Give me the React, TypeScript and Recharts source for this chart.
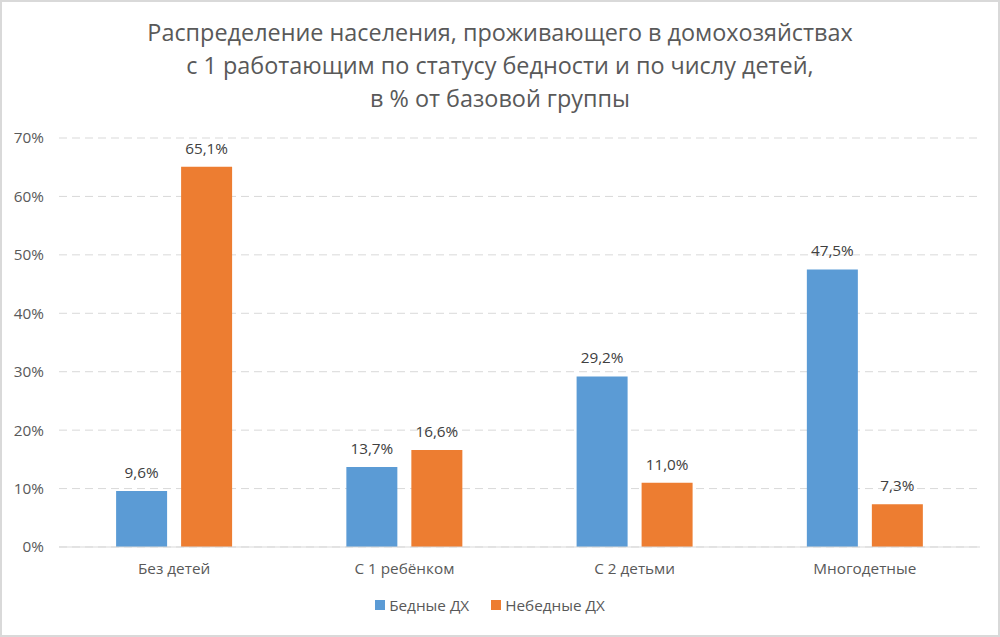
import React from "react";
import {
  BarChart,
  Bar,
  XAxis,
  YAxis,
  CartesianGrid,
  Legend,
  LabelList,
} from "recharts";

const categories = ["Без детей", "С 1 ребёнком", "С 2 детьми", "Многодетные"];
const poor = [9.6, 13.7, 29.2, 47.5];
const nonPoor = [65.1, 16.6, 11.0, 7.3];
const yTicks = [0, 10, 20, 30, 40, 50, 60, 70];

const titleLines = [
  "Распределение населения, проживающего в домохозяйствах",
  "с 1 работающим по статусу бедности и по числу детей,",
  "в % от базовой группы",
];

const COLORS = {
  poor: "#5B9BD5",
  nonPoor: "#ED7D31",
  text: "#595959",
  label: "#404040",
  grid: "#D9D9D9",
};

const FONT = "'Open Sans', 'Noto Sans', sans-serif";
const SMALL = 15.3;

const data = categories.map((name, i) => ({
  name,
  poor: poor[i],
  nonPoor: nonPoor[i],
}));

const formatPct = (v: number) => `${v.toFixed(1).replace(".", ",")}%`;

const renderLegend = (props: any) => {
  const { payload } = props;
  return (
    <div
      style={{
        display: "flex",
        justifyContent: "center",
        gap: 22,
        fontFamily: FONT,
        fontSize: SMALL,
        color: COLORS.text,
      }}
    >
      {payload.map((entry: any) => (
        <div key={entry.value} style={{ display: "flex", alignItems: "center" }}>
          <span
            style={{
              display: "inline-block",
              width: 10,
              height: 10,
              background: entry.color,
              marginRight: 4,
            }}
          />
          <span>{entry.value}</span>
        </div>
      ))}
    </div>
  );
};

export default function App() {
  return (
    <div
      style={{
        position: "fixed",
        left: 0,
        top: 0,
        width: 1000,
        height: 637,
        background: "#ffffff",
        fontFamily: FONT,
      }}
    >
      <div
        style={{
          position: "absolute",
          top: 16,
          left: 0,
          width: 1000,
          textAlign: "center",
          fontSize: 23.4,
          lineHeight: "33px",
          color: COLORS.text,
        }}
      >
        {titleLines.map((line) => (
          <div key={line}>{line}</div>
        ))}
      </div>
      <BarChart
        width={1000}
        height={637}
        data={data}
        margin={{ top: 138, right: 20, left: 0, bottom: 18 }}
        barCategoryGap="24.8%"
        barGap={14}
      >
        <CartesianGrid
          vertical={false}
          stroke={COLORS.grid}
          strokeDasharray="8 5"
          strokeWidth={1}
        />
        <XAxis
          dataKey="name"
          height={48}
          tickLine={false}
          tickSize={0}
          tickMargin={16}
          axisLine={{ stroke: COLORS.grid, strokeWidth: 1 }}
          tick={{ fill: COLORS.text, fontSize: SMALL, fontFamily: FONT }}
        />
        <YAxis
          width={59}
          domain={[0, 70]}
          ticks={yTicks}
          tickFormatter={(v: number) => `${v}%`}
          axisLine={false}
          tickLine={false}
          tickSize={0}
          tickMargin={15}
          tick={{ fill: COLORS.text, fontSize: SMALL, fontFamily: FONT }}
        />
        <Legend verticalAlign="bottom" height={24} content={renderLegend} />
        <Bar dataKey="poor" name="Бедные ДХ" fill={COLORS.poor} isAnimationActive={false}>
          <LabelList
            dataKey="poor"
            position="top"
            offset={13}
            formatter={(v: any) => formatPct(Number(v))}
            style={{ fill: COLORS.label, fontSize: SMALL, fontFamily: FONT }}
          />
        </Bar>
        <Bar dataKey="nonPoor" name="Небедные ДХ" fill={COLORS.nonPoor} isAnimationActive={false}>
          <LabelList
            dataKey="nonPoor"
            position="top"
            offset={13}
            formatter={(v: any) => formatPct(Number(v))}
            style={{ fill: COLORS.label, fontSize: SMALL, fontFamily: FONT }}
          />
        </Bar>
      </BarChart>
      <div
        style={{
          position: "absolute",
          inset: 0,
          boxShadow: "inset 0 0 0 2px #D9D9D9",
          pointerEvents: "none",
        }}
      />
    </div>
  );
}
